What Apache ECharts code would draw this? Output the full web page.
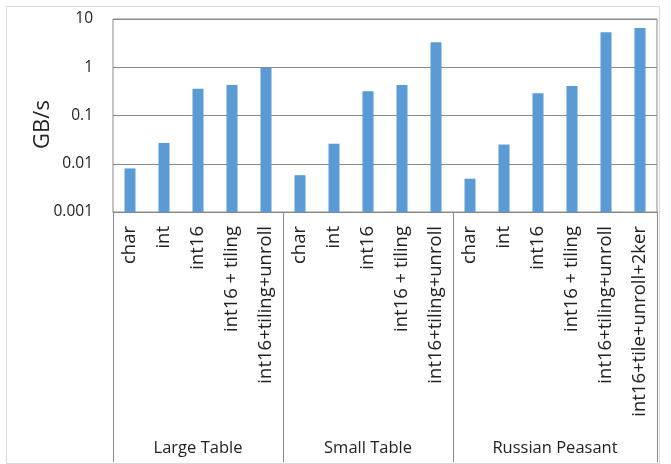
<!DOCTYPE html>
<html>
<head>
<meta charset="utf-8">
<script src="https://cdn.jsdelivr.net/npm/echarts@6/dist/echarts.min.js"></script>
<style>
  html, body { margin: 0; padding: 0; background: #fff; }
  #chart { width: 671px; height: 464px; }
  .frame { position: absolute; left: 6px; top: 6px; width: 652px; height: 456px; border: 1px solid #d9d9d9; pointer-events: none; }
</style>
</head>
<body>
<div id="chart"></div>
<div class="frame"></div>
<script>
// data
var groupNames = ['Large Table', 'Small Table', 'Russian Peasant'];
var largeLabels = ['char', 'int', 'int16', 'int16 + tiling', 'int16+tiling+unroll'];
var smallLabels = ['char', 'int', 'int16', 'int16 + tiling', 'int16+tiling+unroll'];
var russianLabels = ['char', 'int', 'int16', 'int16 + tiling', 'int16+tiling+unroll', 'int16+tile+unroll+2ker'];
var largeValues = [0.008, 0.027, 0.36, 0.43, 0.98];
var smallValues = [0.0058, 0.026, 0.32, 0.43, 3.3];
var russianValues = [0.0049, 0.025, 0.29, 0.41, 5.3, 6.5];
var yTicks = [0.001, 0.01, 0.1, 1, 10];

var groups = [largeLabels, smallLabels, russianLabels];
var categories = largeLabels.concat(smallLabels, russianLabels);
var values = largeValues.concat(smallValues, russianValues);

// second axis: half-slot points so group names sit centred and ticks mark the boundaries
var halfPoints = [];
for (var i = 0; i <= categories.length * 2; i++) halfPoints.push('');
var boundaries = [0];
var start = 0;
groups.forEach(function (g, k) {
    halfPoints[start * 2 + g.length] = groupNames[k];
    start += g.length;
    boundaries.push(start * 2);
});

var font = 'Open Sans';
var barColor = '#5b9bd5';
var chart = echarts.init(document.getElementById('chart'));

// bars are drawn from the bottom of the log axis (plain bars would start at 1)
function renderBar(params, api) {
    var top = api.coord([api.value(0), api.value(1)]);
    var base = api.coord([api.value(0), yTicks[0]]);
    var w = 11;
    return {
        type: 'rect',
        shape: { x: top[0] - w / 2, y: top[1], width: w, height: base[1] - top[1] },
        style: { fill: barColor }
    };
}

var option = {
    animation: false,
    grid: {
        left: 113, right: 14, top: 19, bottom: 252,
        show: true, borderColor: '#898989', borderWidth: 1
    },
    xAxis: [{
        type: 'category',
        data: categories,
        axisLine: { show: true, lineStyle: { color: '#898989', width: 1 } },
        axisTick: { show: false },
        axisLabel: {
            interval: 0, rotate: 90, margin: 14,
            color: '#222', fontFamily: font, fontSize: 18.5
        }
    }, {
        type: 'category',
        position: 'bottom',
        boundaryGap: false,
        data: halfPoints,
        axisLine: { show: false },
        axisTick: {
            show: true, length: 250,
            interval: function (idx) { return boundaries.indexOf(idx) >= 0; },
            lineStyle: { color: '#898989', width: 1 }
        },
        axisLabel: {
            interval: 0, margin: 228,
            color: '#222', fontFamily: font, fontSize: 16.5
        }
    }],
    yAxis: {
        type: 'log',
        logBase: 10,
        min: yTicks[0],
        max: yTicks[yTicks.length - 1],
        name: 'GB/s',
        nameLocation: 'middle',
        nameMoveOverlap: false,
        nameGap: 59,
        nameTextStyle: { color: '#222', fontFamily: font, fontSize: 22, padding: [0, 18, 0, 0] },
        axisLine: { show: false },
        axisTick: { show: false },
        axisLabel: {
            margin: 20, color: '#222', fontFamily: font, fontSize: 15.5,
            formatter: function (v) { return String(v); }
        },
        splitLine: { lineStyle: { color: '#898989', width: 1 } }
    },
    series: [{
        type: 'custom',
        xAxisIndex: 0,
        renderItem: renderBar,
        encode: { x: 0, y: 1 },
        data: values.map(function (v, i) { return [i, v]; })
    }]
};
chart.setOption(option);
</script>
</body>
</html>
